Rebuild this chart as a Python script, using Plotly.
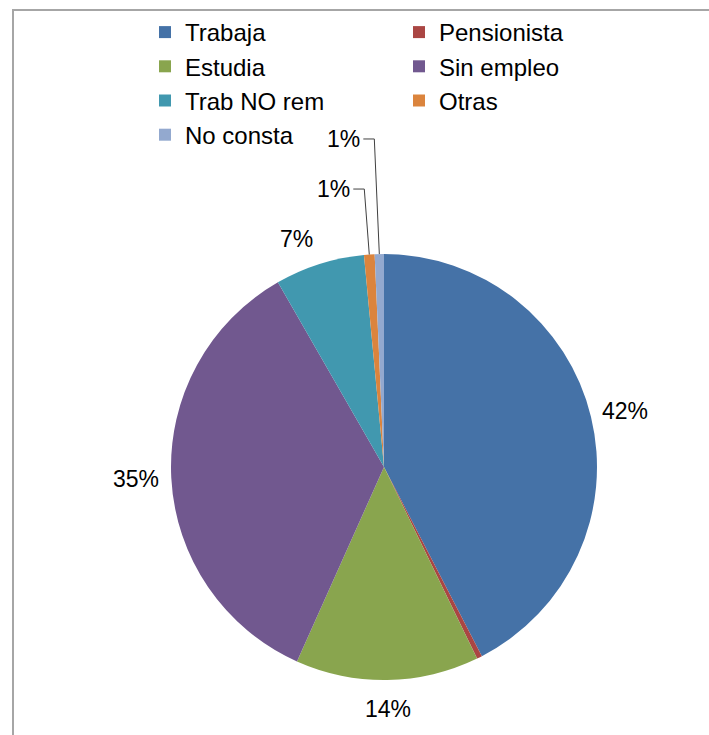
import math
import plotly.graph_objects as go

# ---- data ----
categories = ["Trabaja", "Pensionista", "Estudia", "Sin empleo",
              "Trab NO rem", "Otras", "No consta"]
values = [42.4, 0.4, 13.9, 35.0, 6.8, 0.8, 0.7]
colors = ["#4572A7", "#AA4643", "#89A54E", "#71588F",
          "#4198AF", "#DB843D", "#93A9CF"]

# ---- layout constants (pixels) ----
W, H = 709, 735
CX, CY, R = 384, 467, 213
FONT = "Liberation Sans, Arial, sans-serif"
LABEL_SIZE = 23


def px(x):
    return x / W


def py(y):
    return 1 - y / H


fig = go.Figure(go.Pie(
    labels=categories,
    values=values,
    sort=False,
    direction="clockwise",
    rotation=0,
    marker=dict(colors=colors, line=dict(width=0)),
    textinfo="none",
    hoverinfo="label+percent",
    domain=dict(x=[px(CX - R), px(CX + R)], y=[py(CY + R), py(CY - R)]),
))

total = sum(values)
annotations = []
shapes = []
cum = 0.0
small_rank = 0
small_heights = [1.305, 1.54]  # label heights (in radii) for leader-line labels
for i, v in enumerate(values):
    frac = v / total
    mid = (cum + frac / 2) * 2 * math.pi
    cum += frac
    pct = round(frac * 100)
    if pct == 0:
        continue
    ux, uy = math.sin(mid), -math.cos(mid)
    text = f"{pct}%"
    if pct <= 1:
        ex, ey = CX + R * ux, CY + R * uy
        ly = CY - small_heights[min(small_rank, len(small_heights) - 1)] * R
        small_rank += 1
        tx = ex - 16
        shapes.append(dict(type="path", xref="paper", yref="paper",
                           path=f"M {px(tx)},{py(ly)} L {px(ex - 5)},{py(ly)} L {px(ex)},{py(ey)}",
                           line=dict(color="#404040", width=1)))
        annotations.append(dict(x=px(tx - 1), y=py(ly), xref="paper", yref="paper",
                                text=text, showarrow=False, xanchor="right", yanchor="middle",
                                font=dict(size=LABEL_SIZE, color="black", family=FONT)))
    else:
        d = 10
        w, h = 50 if pct >= 10 else 36, 24
        cxl = CX + (R + d) * ux + ux * w / 2
        cyl = CY + (R + d) * uy + uy * h / 2
        if uy > 0.9:
            cyl += 7
        if ux < 0 and uy < -0.9:
            cxl -= 14
            cyl -= 4
        annotations.append(dict(x=px(cxl), y=py(cyl), xref="paper", yref="paper",
                                text=text, showarrow=False, xanchor="center", yanchor="middle",
                                font=dict(size=LABEL_SIZE, color="black", family=FONT)))

# chart frame
shapes.append(dict(type="rect", xref="paper", yref="paper",
                   x0=px(13), y0=py(745), x1=px(725), y1=py(10),
                   line=dict(color="#A6A6A6", width=2), fillcolor="rgba(0,0,0,0)",
                   layer="below"))

fig.update_layout(
    width=W, height=H,
    margin=dict(l=0, r=0, t=0, b=0),
    paper_bgcolor="white",
    plot_bgcolor="white",
    font=dict(family=FONT, color="black"),
    showlegend=True,
    legend=dict(
        orientation="h",
        x=px(145), y=py(10), xanchor="left", yanchor="top",
        entrywidth=209, entrywidthmode="pixels",
        font=dict(size=24, color="black", family=FONT),
        bgcolor="rgba(0,0,0,0)",
        traceorder="normal",
    ),
    annotations=annotations,
    shapes=shapes,
)

fig.write_html("out.html", config={"displayModeBar": False},
               post_script="document.body.style.margin='0px';")
